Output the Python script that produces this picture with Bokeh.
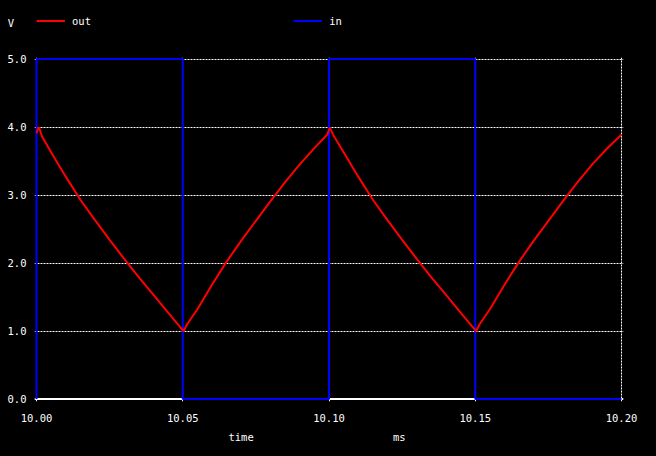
from bokeh.plotting import figure
from bokeh.layouts import column
from bokeh.models import (Range1d, FixedTicker, PrintfTickFormatter, Span, Label,
                          Legend, LegendItem)
from bokeh.embed import file_html
from bokeh.resources import INLINE

# ---- data ----
time_out = [10.000, 10.0008, 10.0019, 10.005, 10.010, 10.015, 10.020, 10.025, 10.030,
            10.035, 10.040, 10.045, 10.0487, 10.0503,
            10.0515, 10.055, 10.060, 10.065, 10.070, 10.075, 10.080, 10.085, 10.090,
            10.095, 10.0994, 10.1003,
            10.1015, 10.105, 10.110, 10.115, 10.120, 10.125, 10.130, 10.135, 10.140,
            10.145, 10.1487, 10.1503,
            10.1515, 10.155, 10.160, 10.165, 10.170, 10.175, 10.180, 10.185, 10.190,
            10.195, 10.200]
v_out = [3.91, 4.00, 3.86, 3.63, 3.27, 2.93, 2.63, 2.34, 2.06,
         1.79, 1.53, 1.27, 1.08, 1.00,
         1.10, 1.32, 1.68, 2.02, 2.33, 2.62, 2.91, 3.19, 3.45,
         3.69, 3.89, 3.99,
         3.88, 3.63, 3.27, 2.93, 2.63, 2.34, 2.06, 1.79, 1.53,
         1.27, 1.08, 1.00,
         1.10, 1.32, 1.68, 2.02, 2.33, 2.62, 2.91, 3.19, 3.45,
         3.68, 3.89]
time_in = [10.00, 10.00, 10.05, 10.05, 10.10, 10.10, 10.15, 10.15, 10.20]
v_in = [0, 5, 5, 0, 0, 5, 5, 0, 0]

x_ticks = [10.00, 10.05, 10.10, 10.15, 10.20]
y_ticks = [0, 1, 2, 3, 4, 5]
y_grid = [1, 2, 3, 4, 5]
series_names = ["out", "in"]
series_colors = ["#ff0000", "#0000ff"]
y_unit = "V"
x_title = "time"
x_unit = "ms"

FONT = "DejaVu Sans Mono"
FS = "10.5px"
W = 656
NAN = float("nan")
BLACK = {"background-color": "black"}


def blank(h):
    f = figure(width=W, height=h, output_backend="svg", toolbar_location=None,
               x_range=Range1d(0, W), y_range=Range1d(h, 0),
               x_axis_type=None, y_axis_type=None, frame_align=False,
               min_border_left=0, min_border_right=0, min_border_top=0, min_border_bottom=0,
               background_fill_color="black", border_fill_color="black",
               outline_line_color=None, styles=BLACK)
    return f


def label(f, txt, x, y, align="center"):
    f.add_layout(Label(x=x, y=y, text=txt, text_color="white", text_font=FONT,
                       text_font_size=FS, text_align=align, text_baseline="middle"))


# ---- header: unit + legend ----
head = blank(40)
label(head, y_unit, 10.3, 22.5)
for name, col, lx in zip(series_names, series_colors, (36, 293.3)):
    r = head.line(x=[NAN], y=[NAN], line_color=col, line_width=2)
    head.add_layout(Legend(items=[LegendItem(label=name, renderers=[r])],
                           location=(lx, 12.8), padding=0, margin=0, spacing=0,
                           glyph_width=29, glyph_height=13, label_height=13,
                           label_standoff=7, label_text_color="white",
                           label_text_font=FONT, label_text_font_size=FS,
                           background_fill_alpha=0, border_line_alpha=0))

# ---- main plot ----
PX = 68.0  # pixels per volt
p = figure(width=W, height=386, output_backend="svg", toolbar_location=None,
           x_range=Range1d(10.0 - 2 / 2925, 10.2 + 2 / 2925),
           y_range=Range1d(-2.5 / PX, 5 + 1.5 / PX), frame_align=False,
           min_border_left=34, min_border_right=33, min_border_top=17, min_border_bottom=25,
           background_fill_color="black", border_fill_color="black",
           outline_line_color=None, styles=BLACK)

for ax, ticks, fmt, stand in ((p.xaxis, x_ticks, "%.2f", 6), (p.yaxis, y_ticks, "%.1f", 2)):
    ax.ticker = FixedTicker(ticks=ticks)
    ax.formatter = PrintfTickFormatter(format=fmt)
    ax.axis_line_color = None
    ax.major_tick_line_color = None
    ax.minor_tick_line_color = None
    ax.major_label_text_color = "white"
    ax.major_label_text_font = FONT
    ax.major_label_text_font_size = FS
    ax.major_label_standoff = stand

p.xgrid.ticker = FixedTicker(ticks=x_ticks)
p.ygrid.ticker = FixedTicker(ticks=y_grid)
for g in (p.xgrid, p.ygrid):
    g.grid_line_color = "white"
    g.grid_line_dash = "2 1"
    g.grid_line_width = 1

p.add_layout(Span(location=0, dimension="width", line_color="white", line_width=2,
                  level="underlay"))

p.line(time_in, v_in, line_color=series_colors[1], line_width=2)
p.line(time_out, v_out, line_color=series_colors[0], line_width=2)

# ---- footer: x title + unit ----
foot = blank(30)
label(foot, x_title, 240.6, 10)
label(foot, x_unit, 398.7, 10)

layout = column(head, p, foot, spacing=0, styles=BLACK)
open("out.html", "w").write(file_html(layout, INLINE))
